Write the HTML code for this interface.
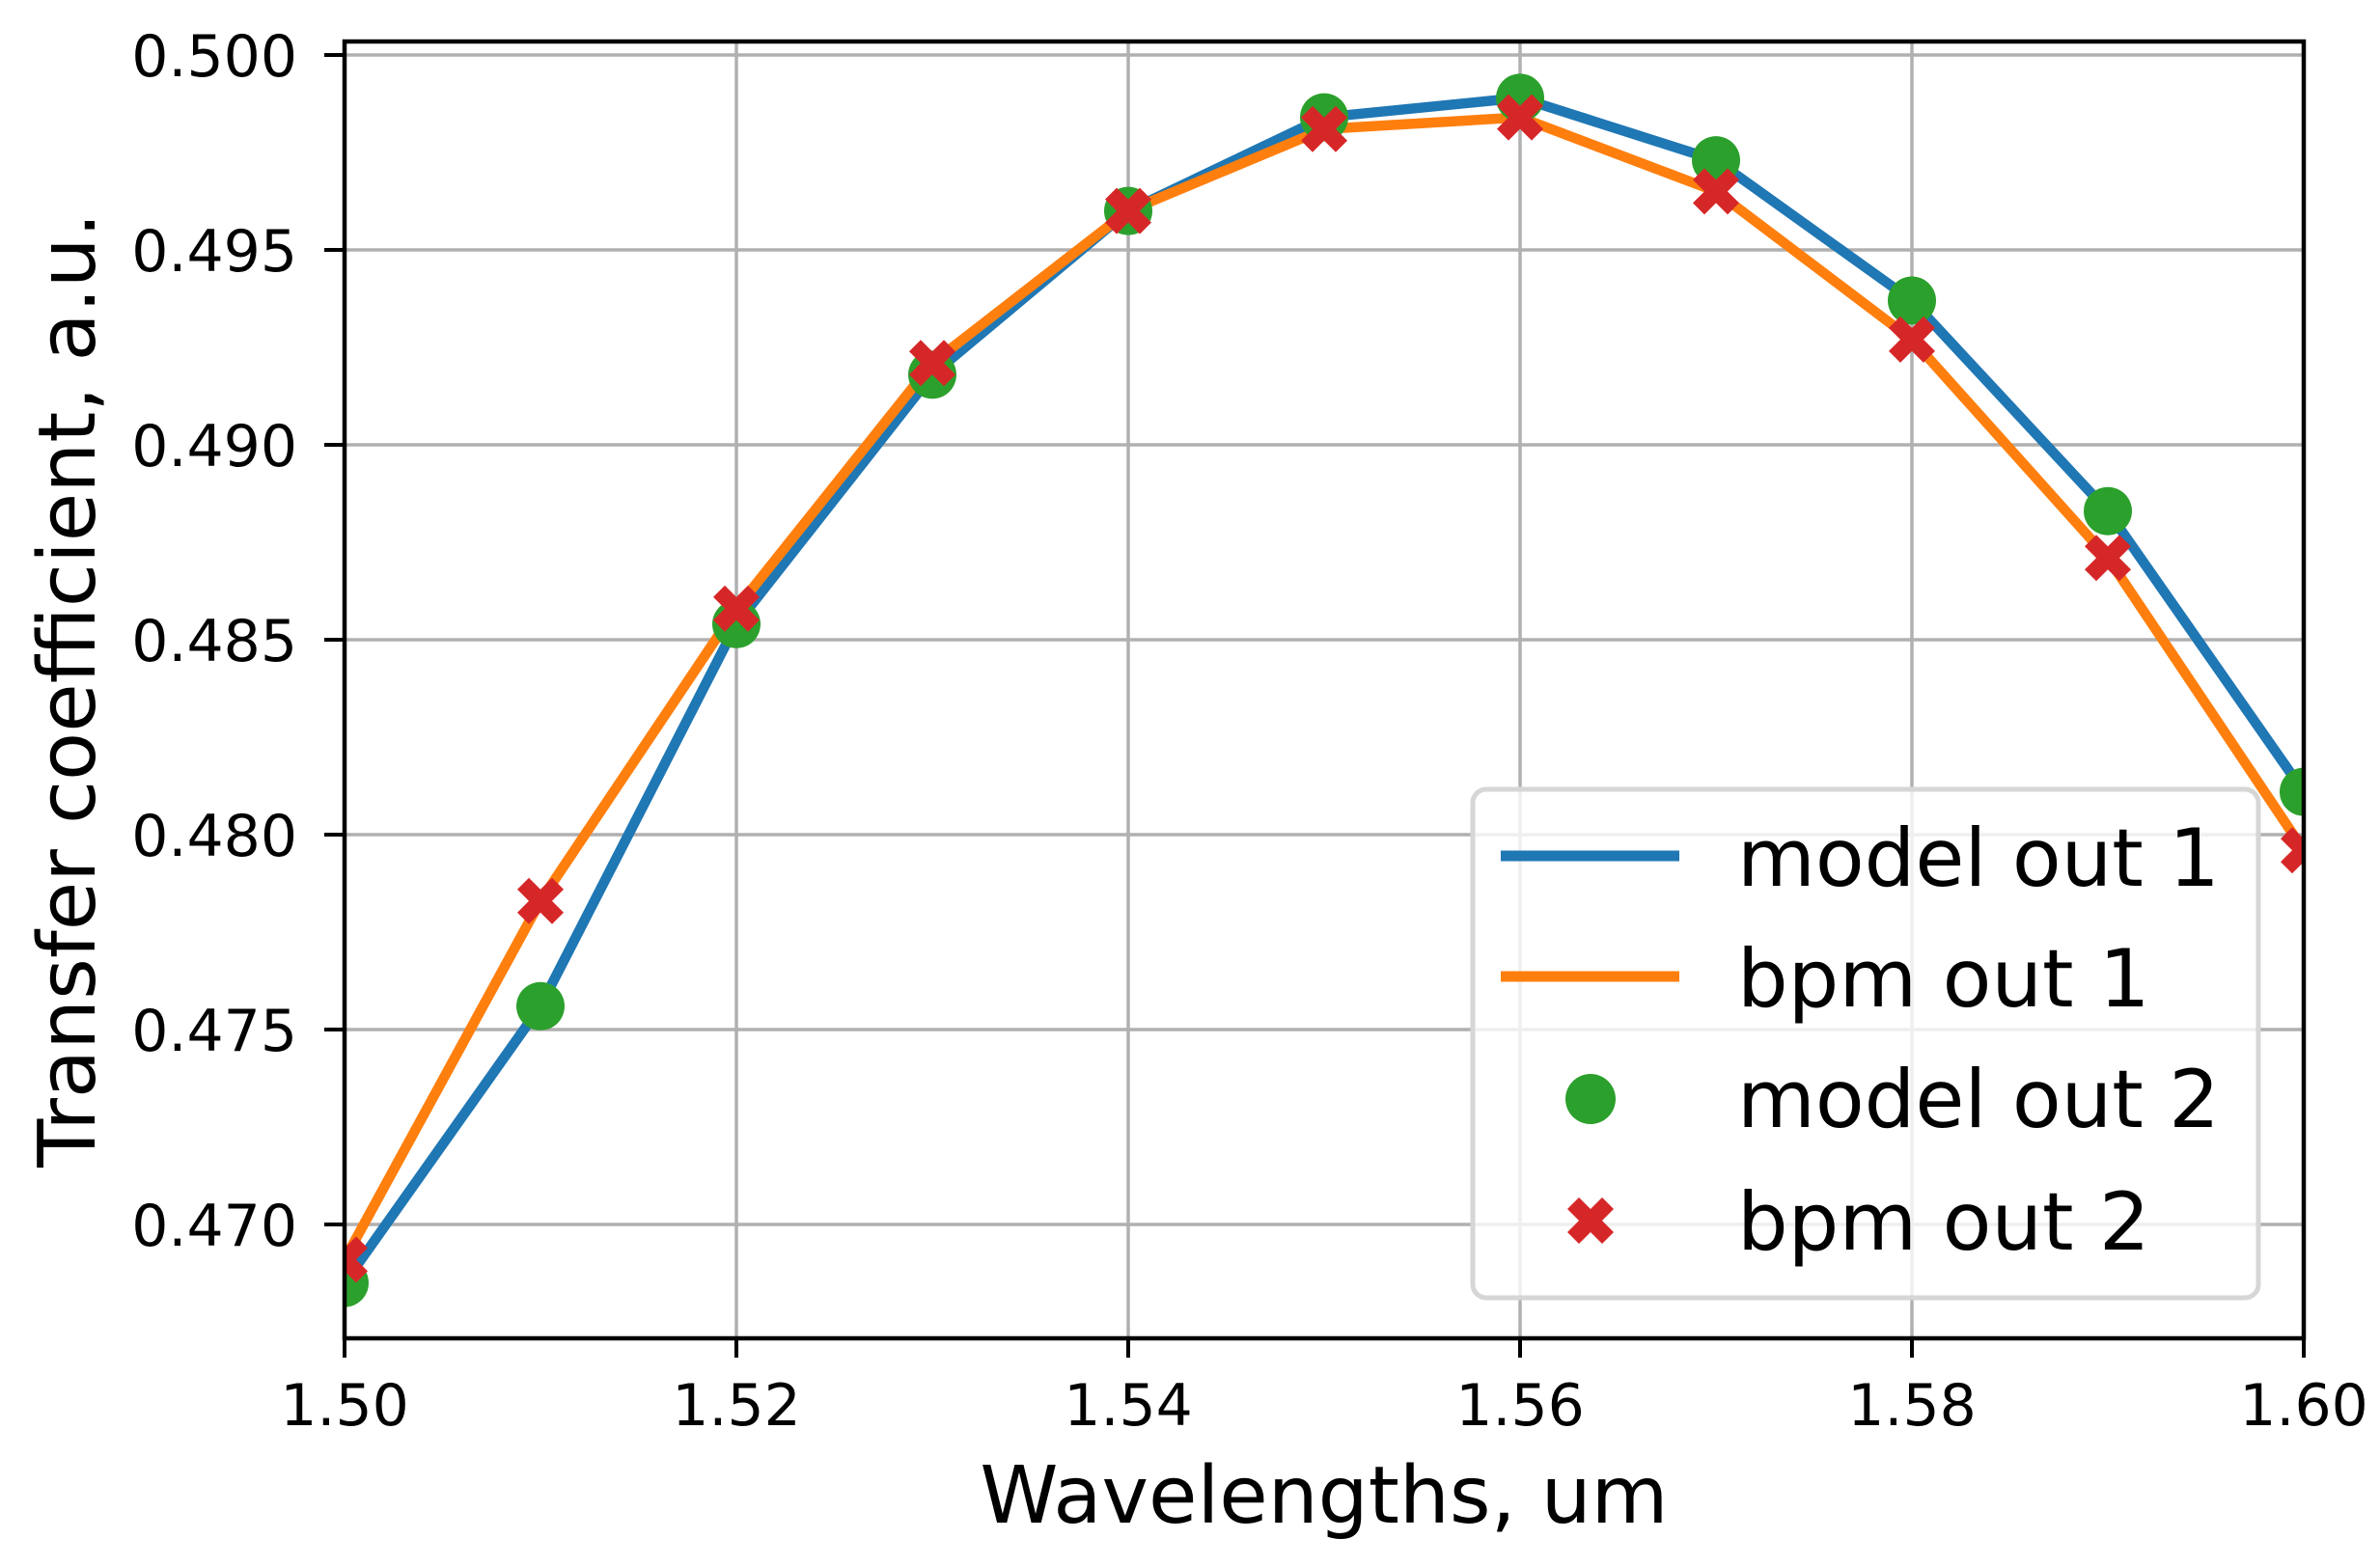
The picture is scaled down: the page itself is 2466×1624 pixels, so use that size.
<!DOCTYPE html>
<html><head><meta charset="utf-8"><style>html,body{margin:0;padding:0;background:#fff}svg{display:block}</style></head>
<body>
<svg width="2466" height="1624" viewBox="0 0 2466 1624" xmlns="http://www.w3.org/2000/svg" font-family="'DejaVu Sans','Liberation Sans',sans-serif">
<defs>
<clipPath id="ax"><rect x="357" y="43" width="2030" height="1344"/></clipPath>
<path id="xm" d="M0,-12 L12,-24 L24,-12 L12,0 L24,12 L12,24 L0,12 L-12,24 L-24,12 L-12,0 L-24,-12 L-12,-24 Z" fill="#d62728"/>
</defs>
<rect width="2466" height="1624" fill="#fff"/>
<g stroke="#b0b0b0" stroke-width="3.5">
<line x1="357" x2="2387" y1="57" y2="57"/><line x1="357" x2="2387" y1="259" y2="259"/><line x1="357" x2="2387" y1="461" y2="461"/><line x1="357" x2="2387" y1="663" y2="663"/><line x1="357" x2="2387" y1="865" y2="865"/><line x1="357" x2="2387" y1="1067" y2="1067"/><line x1="357" x2="2387" y1="1269" y2="1269"/>
<line y1="43" y2="1387" x1="763" x2="763"/><line y1="43" y2="1387" x1="1169" x2="1169"/><line y1="43" y2="1387" x1="1575" x2="1575"/><line y1="43" y2="1387" x1="1981" x2="1981"/>
</g>
<g clip-path="url(#ax)">
<polyline fill="none" stroke="#1f77b4" stroke-width="10.5" stroke-linejoin="round" points="357,1329.6 560,1042.8 763,646.8 966,388.3 1169,218.6 1372,121.6 1575,101.4 1778,166.1 1981,311.5 2184,529.7 2387,820.6"/>
<polyline fill="none" stroke="#ff7f0e" stroke-width="10.5" stroke-linejoin="round" points="357,1305.4 560,933.7 763,630.7 966,376.2 1169,218.6 1372,133.8 1575,121.6 1778,198.4 1981,351.9 2184,578.2 2387,881.2"/>
<g fill="#2ca02c">
<circle cx="357" cy="1329.6" r="25"/><circle cx="560" cy="1042.8" r="25"/><circle cx="763" cy="646.8" r="25"/><circle cx="966" cy="388.3" r="25"/><circle cx="1169" cy="218.6" r="25"/><circle cx="1372" cy="121.6" r="25"/><circle cx="1575" cy="101.4" r="25"/><circle cx="1778" cy="166.1" r="25"/><circle cx="1981" cy="311.5" r="25"/><circle cx="2184" cy="529.7" r="25"/><circle cx="2387" cy="820.6" r="25"/>
</g>
<use href="#xm" x="357" y="1305.4"/><use href="#xm" x="560" y="933.7"/><use href="#xm" x="763" y="630.7"/><use href="#xm" x="966" y="376.2"/><use href="#xm" x="1169" y="218.6"/><use href="#xm" x="1372" y="133.8"/><use href="#xm" x="1575" y="121.6"/><use href="#xm" x="1778" y="198.4"/><use href="#xm" x="1981" y="351.9"/><use href="#xm" x="2184" y="578.2"/><use href="#xm" x="2387" y="881.2"/>
</g>
<rect x="357" y="43" width="2030" height="1344" fill="none" stroke="#000" stroke-width="4.5"/>
<g stroke="#000" stroke-width="4">
<line x1="336" x2="357" y1="57" y2="57"/><line x1="336" x2="357" y1="259" y2="259"/><line x1="336" x2="357" y1="461" y2="461"/><line x1="336" x2="357" y1="663" y2="663"/><line x1="336" x2="357" y1="865" y2="865"/><line x1="336" x2="357" y1="1067" y2="1067"/><line x1="336" x2="357" y1="1269" y2="1269"/>
<line y1="1387" y2="1407" x1="357" x2="357"/><line y1="1387" y2="1407" x1="763" x2="763"/><line y1="1387" y2="1407" x1="1169" x2="1169"/><line y1="1387" y2="1407" x1="1575" x2="1575"/><line y1="1387" y2="1407" x1="1981" x2="1981"/><line y1="1387" y2="1407" x1="2387" x2="2387"/>
</g>
<g font-size="60" text-anchor="end" fill="#000">
<text x="308" y="79">0.500</text><text x="308" y="281">0.495</text><text x="308" y="483">0.490</text><text x="308" y="685">0.485</text><text x="308" y="887">0.480</text><text x="308" y="1089">0.475</text><text x="308" y="1291">0.470</text>
</g>
<g font-size="60" text-anchor="middle" fill="#000">
<text x="357" y="1477">1.50</text><text x="763" y="1477">1.52</text><text x="1169" y="1477">1.54</text><text x="1575" y="1477">1.56</text><text x="1981" y="1477">1.58</text><text x="2387" y="1477">1.60</text>
</g>
<text x="1372" y="1578" font-size="82" text-anchor="middle">Wavelengths, um</text>
<text transform="translate(98,715) rotate(-90)" font-size="82" text-anchor="middle">Transfer coefficient, a.u.</text>
<rect x="1526" y="818" width="814" height="527" rx="14" fill="#fff" fill-opacity="0.8" stroke="#d6d6d6" stroke-width="5"/>
<line x1="1555" x2="1740" y1="887" y2="887" stroke="#1f77b4" stroke-width="11"/>
<line x1="1555" x2="1740" y1="1012" y2="1012" stroke="#ff7f0e" stroke-width="11"/>
<circle cx="1648" cy="1139" r="26" fill="#2ca02c"/>
<use href="#xm" x="1648" y="1265"/>
<g font-size="83" fill="#000">
<text x="1800" y="918">model out 1</text><text x="1800" y="1043">bpm out 1</text><text x="1800" y="1168">model out 2</text><text x="1800" y="1295">bpm out 2</text>
</g>
</svg>
</body></html>
